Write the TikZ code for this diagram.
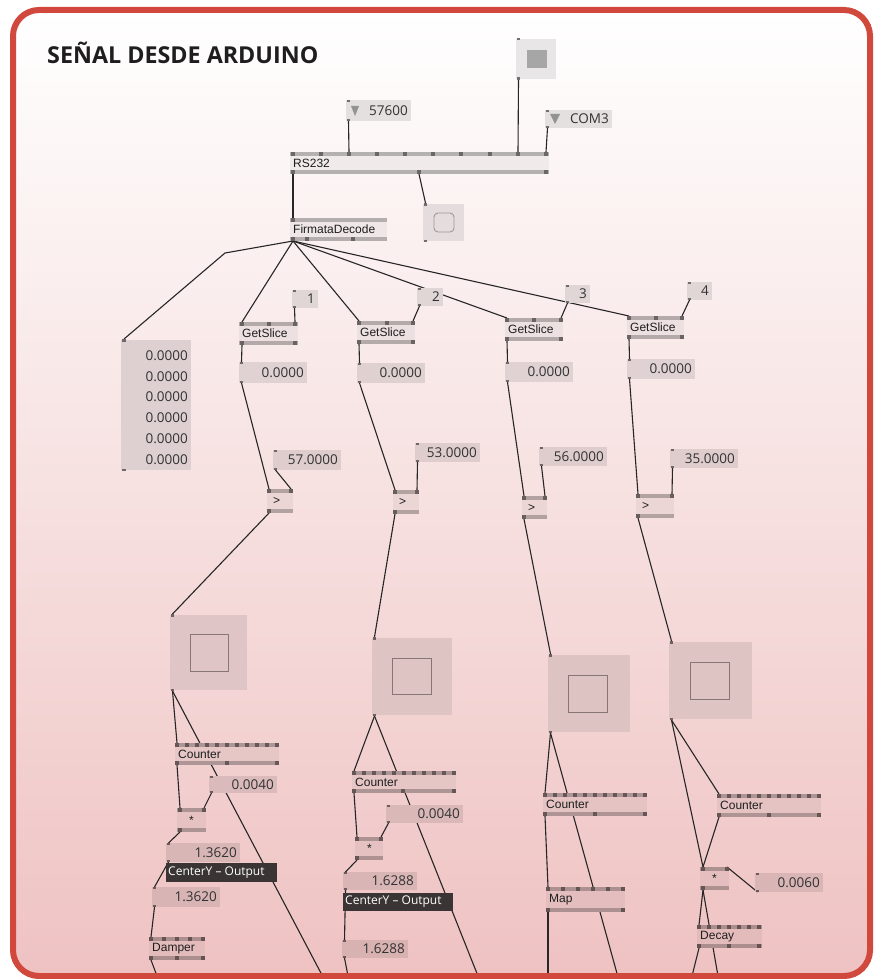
\documentclass[tikz,border=0pt]{standalone}
\usepackage{fontspec}
\setmainfont{Liberation Sans}
\newfontfamily\numfont{Open Sans}
\newfontfamily\titlefont{Open Sans}
\pgfdeclarelayer{back}
\pgfdeclarelayer{links}
\pgfsetlayers{back,links,main}
\definecolor{bgpink}{RGB}{239,194,194}
\definecolor{framered}{RGB}{209,72,60}
\definecolor{darkc}{RGB}{58,52,52}
\definecolor{txtc}{RGB}{30,30,30}
\definecolor{numc}{RGB}{50,50,50}
\newcommand\setbg[1]{\pgfmathsetmacro\bgpct{max(0,min(100,((#1)-10)/9.66))}\colorlet{bgc}{bgpink!\bgpct!white}}
\tikzset{
  link/.style={draw=black!85, line width=1.1pt},
  nodelabel/.style={inner sep=1pt, text=txtc, font=\fontsize{12}{12}\selectfont},
  numlabel/.style={inner sep=0pt, text=numc, font={\numfont\fontsize{13.5}{14}\selectfont}},
  darklabel/.style={inner sep=0pt, text=white, font={\numfont\fontsize{12}{12}\selectfont}},
}
% vvvv node: name, x1, y1, x2, y2, label, inlets, outlets
\newcommand\vvnode[8]{%
  \setbg{#3}%
  \fill[bgc!95!black] (#2,#3) rectangle (#4,#5);
  \fill[bgc!72!black] (#2,#3) rectangle (#4,{#3+4});
  \fill[bgc!72!black] (#2,{#5-4}) rectangle (#4,#5);
  \foreach \px [count=\ii] in {#7}{\fill[bgc!42!black] ({\px-2},#3) rectangle ({\px+2},{#3+4}); \coordinate (#1-i\ii) at (\px,#3);}
  \foreach \px [count=\ii] in {#8}{\fill[bgc!42!black] ({\px-2},{#5-4}) rectangle ({\px+2},#5); \coordinate (#1-o\ii) at (\px,#5);}
  \node[nodelabel, anchor=west] (#1) at ({#2+2},{(#3+#5)/2}) {#6};
}
% io box: name, x1, y1, x2, y2, text
\newcommand\iobox[6]{%
  \setbg{#3}%
  \fill[bgc!90!black] (#2,#3) rectangle (#4,#5);
  \fill[bgc!45!black] ({#2+1},#3) rectangle ({#2+4},{#3+2});
  \fill[bgc!45!black] ({#2+1},{#5-2}) rectangle ({#2+4},#5);
  \coordinate (#1-i) at ({#2+2.5},#3);
  \coordinate (#1-o) at ({#2+2.5},#5);
  \node[numlabel, anchor=east] (#1) at ({#4-3},{(#3+#5)/2}) {#6};
}
% big gui box: name, x1, y1, x2, y2
\newcommand\bigtog[5]{%
  \setbg{#3}%
  \fill[bgc!91!black] (#2,#3) rectangle (#4,#5);
  \fill[bgc!45!black] ({#2+1},{#3-1}) rectangle ({#2+4},{#3+1.5});
  \fill[bgc!45!black] ({#2+1},{#5-1.5}) rectangle ({#2+4},{#5+1});
  \coordinate (#1-i) at ({#2+2.5},{#3-1});
  \coordinate (#1-o) at ({#2+2.5},{#5+1});
  \node[inner sep=0pt] (#1) at ({(#2+#4)/2},{(#3+#5)/2}) {};
}
\newcommand\innersq[4]{\draw[bgc!55!black, line width=0.9pt] (#1,#2) rectangle (#3,#4);}
\newcommand\outlab[5]{%
  \fill[darkc] (#2,#3) rectangle (#4,#5);
  \node[darklabel, anchor=west] (#1) at ({#2+2},{(#3+#5)/2}) {CenterY – Output};
}
\begin{document}
\begin{tikzpicture}[x=1pt,y=-1pt]
\useasboundingbox (0,0) rectangle (873,979);
\begin{pgfonlayer}{back}
\fill[white] (0,0) rectangle (873,979);
\shade[top color=white, bottom color=bgpink, rounded corners=26pt] (13,10) rectangle (870,976);
\end{pgfonlayer}

\node[anchor=base west, inner sep=0pt, text=txtc, font={\titlefont\bfseries\fontsize{23.3}{23.3}\selectfont}] (title) at (47,64) {SEÑAL DESDE ARDUINO};

% ---- top part
\bigtog{tog}{516}{39}{556}{79}
\fill[black!35] (527,50) rectangle (547,68);
\iobox{baud}{346}{100}{411}{121}{57600}
\fill[gray!85] (351,106) -- (359,106) -- (355,116) -- cycle;
\iobox{com}{545}{110}{612}{128}{COM3}
\fill[gray!85] (550,114) -- (560,114) -- (555,124) -- cycle;
\vvnode{rs}{290}{152}{549}{174}{RS232}{293,321,349,377,405,433,461,490,518,546}{293,419,546}
\vvnode{fd}{290}{218}{387}{241}{FirmataDecode}{293}{293,307,353}
\bigtog{rt}{423}{204}{464}{241}
\draw[gray!80, line width=0.9pt, rounded corners=4pt] (434,213) rectangle (454,232);
\coordinate (kink) at (225,253);

% big value box
\setbg{340}
\fill[bgc!89!black] (121,340) rectangle (191,470);
\fill[bgc!45!black] (122,339) rectangle (126,341.5);
\fill[bgc!45!black] (122,468.5) rectangle (126,471);
\coordinate (big-i) at (124,339);
\foreach \yy [count=\k] in {356,377,397,418,439,460}{\node[numlabel, anchor=east] (bv\k) at (188,\yy) {0.0000};}

% index boxes
\iobox{ix1}{292}{290}{318}{308}{1}
\iobox{ix2}{417}{288}{443}{306}{2}
\iobox{ix3}{565}{285}{590}{303}{3}
\iobox{ix4}{687}{282}{712}{300}{4}
% getslices
\vvnode{gs1}{239}{322}{298}{345}{GetSlice}{242,269,295}{242,295}
\vvnode{gs2}{357}{321}{415}{344}{GetSlice}{359,387,413}{359,413}
\vvnode{gs3}{505}{318}{563}{341}{GetSlice}{507,534,561}{507,561}
\vvnode{gs4}{627}{316}{684}{339}{GetSlice}{629,656,682}{629,682}
% values
\iobox{v1}{239}{362}{307}{383}{0.0000}
\iobox{v2}{357}{363}{425}{383}{0.0000}
\iobox{v3}{505}{362}{573}{382}{0.0000}
\iobox{v4}{627}{359}{695}{379}{0.0000}
% thresholds
\iobox{t1}{273}{450}{341}{470}{57.0000}
\iobox{t2}{415}{443}{480}{462}{53.0000}
\iobox{t3}{539}{447}{607}{466}{56.0000}
\iobox{t4}{670}{449}{738}{468}{35.0000}
% comparisons
\vvnode{gt1}{267}{489}{293}{513}{\hspace{3pt}>}{269,291}{269}
\vvnode{gt2}{393}{490}{419}{514}{\hspace{3pt}>}{395,417}{395}
\vvnode{gt3}{522}{496}{547}{519}{\hspace{3pt}>}{524,545}{524}
\vvnode{gt4}{636}{494}{674}{518}{\hspace{3pt}>}{638,672}{638}
% big toggles
\bigtog{b1}{170}{615}{247}{690}\innersq{190}{634}{228}{671}
\bigtog{b2}{372}{638}{452}{715}\innersq{392}{658}{431}{694}
\bigtog{b3}{548}{655}{630}{732}\innersq{568}{675}{607}{712}
\bigtog{b4}{669}{642}{752}{719}\innersq{690}{662}{729}{699}

% column 1
\vvnode{c1}{175}{743}{279}{765}{Counter}{177,187,...,277}{177,227,277}
\iobox{k1}{209}{776}{277}{793}{0.0040}
\vvnode{m1}{177}{808}{206}{832}{\hspace{9pt}*}{180,204}{180}
\iobox{r1}{166}{843}{240}{862}{1.3620}
\outlab{l1}{166}{863}{277}{882}
\iobox{s1}{152}{887}{220}{907}{1.3620}
\vvnode{dmp}{149}{937}{205}{960}{Damper}{151,164,177,190,203}{151,177,203}
% column 2
\vvnode{c2}{352}{771}{456}{793}{Counter}{354,364,...,454}{354,403,454}
\iobox{k2}{386}{805}{463}{823}{0.0040}
\vvnode{m2}{355}{837}{383}{860}{\hspace{9pt}*}{357,381}{357}
\iobox{r2}{343}{872}{417}{890}{1.6288}
\outlab{l2}{343}{893}{453}{911}
\iobox{s2}{342}{940}{408}{958}{1.6288}
% column 3
\vvnode{c3}{543}{793}{647}{816}{Counter}{545,555,...,645}{545,595,645}
\vvnode{map}{546}{887}{625}{912}{Map}{548,563,...,623}{548,623}
% column 4
\vvnode{c4}{717}{794}{821}{817}{Counter}{719,729,...,819}{719,769,819}
\vvnode{m4}{700}{867}{729}{890}{\hspace{9pt}*}{703,727}{703}
\iobox{k3}{755}{873}{823}{892}{0.0060}
\vvnode{dec}{697}{925}{762}{948}{Decay}{699,709,...,759}{699,729,759}

% loose ends at the frame
\coordinate (e1) at (322.5,976);
\coordinate (e1b) at (157,976);
\coordinate (e2) at (478,976);
\coordinate (e2b) at (348,976);
\coordinate (e3) at (617.7,976);
\coordinate (e3b) at (548,976);
\coordinate (e4) at (718,976);
\coordinate (e4b) at (692,976);

\begin{pgfonlayer}{links}
\draw[link] (tog-o) -- (rs-i9);
\draw[link] (baud-o) -- (rs-i3);
\draw[link] (com-o) -- (rs-i10);
\draw[link] (rs-o1) -- (fd-i1);
\draw[link] (rs-o2) -- (rt-i);
\draw[link] (fd-o1) -- (kink) -- (big-i);
\draw[link] (fd-o1) -- (gs1-i1);
\draw[link] (fd-o1) -- (gs2-i1);
\draw[link] (fd-o1) -- (gs3-i1);
\draw[link] (fd-o1) -- (gs4-i1);
\draw[link] (ix1-o) -- (gs1-i3);
\draw[link] (ix2-o) -- (gs2-i3);
\draw[link] (ix3-o) -- (gs3-i3);
\draw[link] (ix4-o) -- (gs4-i3);
\draw[link] (gs1-o1) -- (v1-i);
\draw[link] (gs2-o1) -- (v2-i);
\draw[link] (gs3-o1) -- (v3-i);
\draw[link] (gs4-o1) -- (v4-i);
\draw[link] (v1-o) -- (gt1-i1);
\draw[link] (v2-o) -- (gt2-i1);
\draw[link] (v3-o) -- (gt3-i1);
\draw[link] (v4-o) -- (gt4-i1);
\draw[link] (t1-o) -- (gt1-i2);
\draw[link] (t2-o) -- (gt2-i2);
\draw[link] (t3-o) -- (gt3-i2);
\draw[link] (t4-o) -- (gt4-i2);
\draw[link] (gt1-o1) -- (b1-i);
\draw[link] (gt2-o1) -- (b2-i);
\draw[link] (gt3-o1) -- (b3-i);
\draw[link] (gt4-o1) -- (b4-i);
% col 1
\draw[link] (b1-o) -- (c1-i1);
\draw[link] (b1-o) -- (e1);
\draw[link] (c1-o1) -- (m1-i1);
\draw[link] (k1-o) -- (m1-i2);
\draw[link] (m1-o1) -- (r1-i);
\draw[link] (r1-o) -- (s1-i);
\draw[link] (s1-o) -- (dmp-i1);
\draw[link] (dmp-o1) -- (e1b);
% col 2
\draw[link] (b2-o) -- (c2-i1);
\draw[link] (b2-o) -- (e2);
\draw[link] (c2-o1) -- (m2-i1);
\draw[link] (k2-o) -- (m2-i2);
\draw[link] (m2-o1) -- (r2-i);
\draw[link] (r2-o) -- (s2-i);
\draw[link] (s2-o) -- (e2b);
% col 3
\draw[link] (b3-o) -- (c3-i1);
\draw[link] (b3-o) -- (e3);
\draw[link] (c3-o1) -- (map-i1);
\draw[link] (map-o1) -- (e3b);
% col 4
\draw[link] (b4-o) -- (c4-i1);
\draw[link] (b4-o) -- (m4-i1);
\draw[link] (c4-o1) -- (m4-i1);
\draw[link] (m4-i2) -- (k3-o);
\draw[link] (m4-o1) -- (dec-i1);
\draw[link] (m4-o1) -- (e4);
\draw[link] (dec-o1) -- (e4b);
\end{pgfonlayer}

\draw[framered, line width=6pt, rounded corners=26pt] (13,10) rectangle (870,976);
\end{tikzpicture}
\end{document}
